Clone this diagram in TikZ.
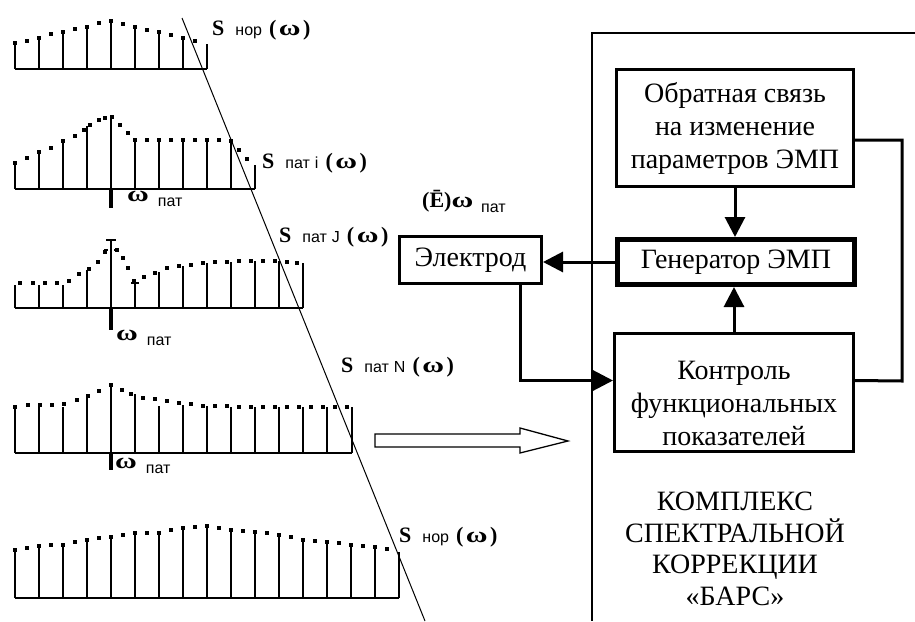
\documentclass[tikz,border=0pt]{standalone}
\usepackage{fontspec}
\setmainfont{Liberation Serif}
\setsansfont{Liberation Sans}
\usetikzlibrary{arrows.meta,calc}
\newcommand\subsm[1]{{\sffamily\fontsize{16}{16}\selectfont #1}}
\newcommand\wom{\scalebox{1.35}[1]{ω}}
\newcommand\Slab[1]{\textbf{S}\hspace{11pt}\subsm{#1}\hspace{7pt}\textbf{(\kern2.5pt\wom\kern2.5pt)}}
\newcommand\Wlab{\textbf{\wom}\hspace{9pt}\raisebox{-5pt}{\subsm{пат}}}
\begin{document}
\begin{tikzpicture}[x=1pt,y=-1pt,
  stemline/.style={line width=1.5pt},
  thickmark/.style={line width=4pt},
  blk/.style={draw, line width=3pt, inner sep=0pt, align=center,
    font=\fontsize{28}{33}\selectfont},
  conn/.style={line width=3pt},
  arr/.style={-{Triangle[length=20pt,width=20pt]}},
  lab/.style={inner sep=0pt, anchor=west, font=\fontsize{22}{22}\selectfont},
  sq/.style={fill=black}]
\useasboundingbox (0,0) rectangle (915,621);

% ---------- spectrum 1 (S nor, top)
\draw[stemline] (15,69) -- (207,69);
\foreach \x/\t in {15/43,39/39,63/32,87/27,111/21,135/25,159/32,183/38,207/44}
  \draw[stemline] (\x,69) -- (\x,\t);
\foreach \x/\y in {15/43,27/41,39/38,51/34,63/32,75/29,87/27,99/23,111/21,123/24,135/27,147/30,159/32,171/35,183/38,195/41}
  \fill[sq] (\x-1.7,\y-1.7) rectangle ++(3.4,3.4);

% ---------- spectrum 2 (S pat i)
\draw[stemline] (15,189) -- (255,189);
\foreach \x/\t in {15/162,39/152,63/141,87/126,111/117,135/140,159/140,183/140,207/140,231/140,255/165}
  \draw[stemline] (\x,189) -- (\x,\t);
\foreach \x/\y in {15/163,27/158,39/152,51/148,63/141,75/136,84/130,90/125,99/120,105/118,112/117,120/125,128/133,135/140,147/140,159/140,171/140,183/140,195/140,207/140,219/140,231/141,239/150,247/159}
  \fill[sq] (\x-1.7,\y-1.7) rectangle ++(3.4,3.4);
\draw[thickmark] (111,189) -- (111,208);

% ---------- spectrum 3 (S pat J)
\draw[stemline] (15,308) -- (303,308);
\foreach \x/\t in {15/285,39/285,63/285,87/270,111/241,135/283,159/272,183/266,207/263,231/262,255/261,279/261,303/263}
  \draw[stemline] (\x,308) -- (\x,\t);
\foreach \x/\y in {20/283,33/283,45/283,57/283,69/281,79/274,89/269,98/262,105/252,117/250,123/258,128/268,134/281,144/277,155/273,167/268,179/266,191/265,203/263,215/262,227/262,239/261,251/261,263/261,275/261,287/262,297/263}
  \fill[sq] (\x-1.7,\y-1.7) rectangle ++(3.4,3.4);
\draw[line width=2.5pt] (106,240) -- (116,240);
\draw[line width=2pt] (104,250) -- (108,250) (114,250) -- (118,250);
\draw[line width=2pt] (131,283) -- (139,283);
\draw[thickmark] (111,308) -- (111,330);

% ---------- spectrum 4 (S pat N)
\draw[stemline] (15,453) -- (352,453);
\foreach \x/\t in {15/407,39/407,63/407,87/397,111/385,135/394,159/406,183/405,207/406,231/407,255/407,279/407,303/407,327/407,352/407}
  \draw[stemline] (\x,453) -- (\x,\t);
\foreach \x/\y in {15/407,28/405,40/405,52/405,64/404,77/400,88/396,99/391,111/385,122/390,131/394,143/398,155/399,167/401,179/403,191/404,203/406,215/406,227/406,239/407,251/407,263/407,275/407,287/407,299/407,311/407,323/407,335/407,347/407}
  \fill[sq] (\x-1.7,\y-1.7) rectangle ++(3.4,3.4);
\draw[thickmark] (111,453) -- (111,470);

% ---------- spectrum 5 (S nor, bottom)
\draw[stemline] (15,598) -- (399,598);
\foreach \x/\t in {15/550,39/546,63/545,87/540,111/537,135/533,159/533,183/528,207/526,231/530,255/532,279/535,303/540,327/542,351/545,375/547,399/552}
  \draw[stemline] (\x,598) -- (\x,\t);
\foreach \x/\y in {15/550,27/548,39/546,51/545,63/545,75/542,87/540,99/538,111/537,123/535,135/533,147/533,159/533,171/530,183/528,195/527,207/526,219/528,231/530,243/531,255/532,267/533,279/535,291/537,303/540,315/541,327/542,339/543,351/545,363/546,375/547,387/549}
  \fill[sq] (\x-1.7,\y-1.7) rectangle ++(3.4,3.4);

% ---------- diagonal line
\coordinate (d1) at (182,18);
\coordinate (d2) at (425,621);
\draw[line width=1pt] (d1) -- (d2);

% ---------- spectrum labels
\node[lab] (ls1) at (212,30) {\Slab{нор}};
\node[lab] (ls2) at (262,163) {\Slab{пат\hspace{5pt}i}};
\node[lab] (ls3) at (279,237) {\Slab{пат\hspace{5pt}J}};
\node[lab] (ls4) at (341,367) {\Slab{пат\hspace{5pt}N}};
\node[lab] (ls5) at (399,537) {\Slab{нор}};
\node[lab] (lw2) at (127,199) {\Wlab};
\node[lab] (lw3) at (116,338) {\Wlab};
\node[lab] (lw4) at (115,466) {\Wlab};
\node[lab] (le) at (422,201) {\textbf{(Ē)\wom}\hspace{8pt}\raisebox{-5pt}{\subsm{пат}}};

% ---------- hollow arrow
\draw[line width=1.3pt] (375,434) -- (520,434) -- (520,428) -- (568,441) -- (520,453) -- (520,447) -- (375,447) -- cycle;

% ---------- outer frame
\draw[line width=1.5pt] (915,33) -- (592,33) -- (592,621);

% ---------- blocks
\node[blk, minimum width=237pt, minimum height=117pt] (obr) at (735,128)
  {Обратная связь\\на изменение\\параметров ЭМП};
\node[blk, line width=5pt, minimum width=237pt, minimum height=45pt] (gen) at (736,262)
  {Генератор ЭМП};
\node[blk, minimum width=142pt, minimum height=47pt] (elec) at (470.5,260)
  {Электрод};
\node[blk, minimum width=239pt, minimum height=118pt] (ctrl) at (734,392.5)
  {\rule{0pt}{40pt}Контроль\\функциональных\\показателей};
\node[align=center, inner sep=0pt, font=\fontsize{28}{31.5}\selectfont] (bars) at (735,549)
  {КОМПЛЕКС\\СПЕКТРАЛЬНОЙ\\КОРРЕКЦИИ\\«БАРС»};

% ---------- connectors
\draw[conn, arr] (gen.west) -- (gen.west -| elec.east);
\draw[conn, arr] (obr.south) -- (obr.south |- gen.north);
\draw[conn, arr] (ctrl.north) -- (ctrl.north |- gen.south);
\draw[conn, arr] ([xshift=49.5pt]elec.south) |- ([yshift=12pt]ctrl.west);
\coordinate (fbr) at (902,381);
\draw[conn] ([yshift=12pt]ctrl.east) -- (fbr) |- ([yshift=-12pt]obr.east);
\end{tikzpicture}
\end{document}
